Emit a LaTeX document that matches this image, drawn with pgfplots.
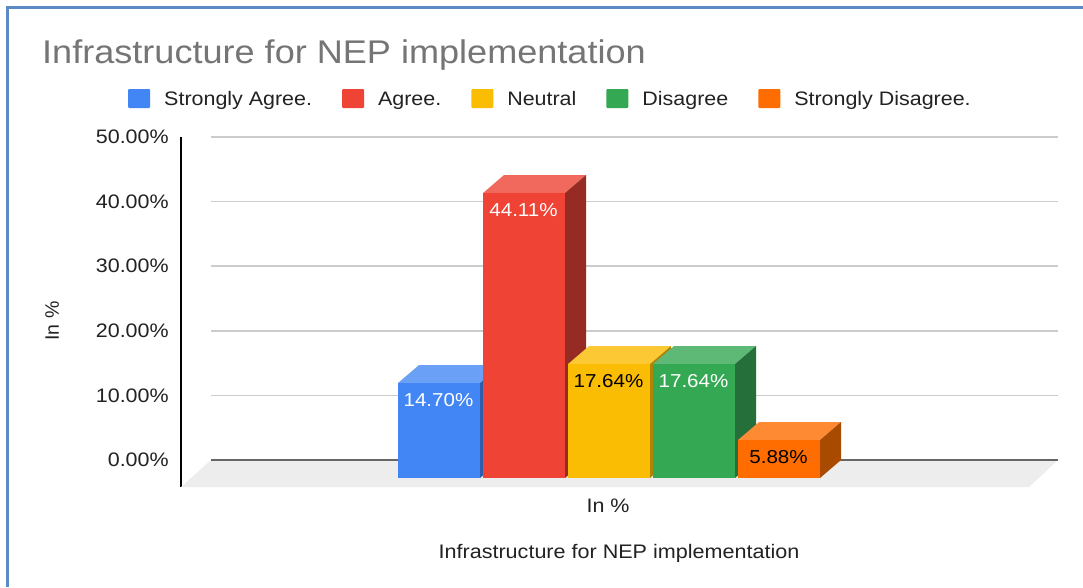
\documentclass[border=0pt]{standalone}
\usepackage{fontspec}
\setmainfont{Liberation Sans}[FakeStretch=1.1]
\usepackage{pgfplots}
\pgfplotsset{compat=1.18}
\definecolor{frameblue}{HTML}{5B8AC4}
\definecolor{titlegrey}{HTML}{757575}
\definecolor{txt}{HTML}{222222}
\definecolor{gridgrey}{HTML}{CCCCCC}
\definecolor{floorgrey}{HTML}{EDEDED}
\definecolor{zeroline}{HTML}{666666}
\definecolor{cblue}{HTML}{4285F4}
\definecolor{cblueT}{HTML}{6AA0F6}
\definecolor{cblueS}{HTML}{2E5DAB}
\definecolor{cred}{HTML}{EE4335}
\definecolor{credT}{HTML}{F1695C}
\definecolor{credS}{HTML}{962B24}
\definecolor{cyel}{HTML}{FBBC04}
\definecolor{cyelT}{HTML}{FCC934}
\definecolor{cyelS}{HTML}{B08403}
\definecolor{cgrn}{HTML}{34A853}
\definecolor{cgrnT}{HTML}{5DB975}
\definecolor{cgrnS}{HTML}{246F3A}
\definecolor{corg}{HTML}{FF6D01}
\definecolor{corgT}{HTML}{FF8A34}
\definecolor{corgS}{HTML}{A84A00}
\newcommand{\txtfont}{\fontsize{19.5}{23}\selectfont}
\pgfkeys{/pgf/number format/.cd, fixed, fixed zerofill, precision=2, assume math mode=true}
\pgfplotsset{
  front/.style={ybar, bar width=82pt, bar shift=0pt, draw=none, xshift=-21pt, yshift=-18pt,
    nodes near coords={\pgfmathprintnumber{\pgfplotspointmeta}\%},
    nodes near coords align={below},
    every node near coord/.append style={font=\fontsize{18.7}{22}\selectfont, xshift=-0.5pt, yshift=-6.5pt, text=#1}},
  face/.style={fill=#1, draw=none, forget plot},
  gridl/.style={gridgrey, line width=1.5pt, forget plot},
}
\begin{document}
\begin{tikzpicture}
\path[use as bounding box] (0,0) rectangle (1083pt,587pt);
\fill[white] (0,0) rectangle (1083pt,587pt);
\draw[frameblue, line width=3pt] (7pt,0) -- (7pt,579pt) -- (1083pt,579pt);
\node[anchor=west, inner sep=0pt, text=titlegrey, font=\fontsize{32.8}{38}\selectfont] at (42pt,532pt) {Infrastructure for NEP implementation};
\begin{axis}[
  at={(181pt,100pt)}, anchor=south west,
  scale only axis, width=877pt, height=350pt,
  xmin=181, xmax=1058, ymin=-4.18, ymax=50,
  clip=false,
  axis y line=left, axis x line=bottom,
  axis line style={-},
  x axis line style={draw=none},
  y axis line style={black, line width=1.4pt},
  tick style={draw=none},
  ytick={0,10,20,30,40,50},
  yticklabel={\pgfmathprintnumber{\tick}\%},
  y tick label style={font=\txtfont, text=txt, anchor=east, xshift=-10pt, inner sep=0pt},
  xtick={608}, xticklabels={In \%},
  x tick label style={font=\txtfont, text=txt, yshift=-6pt},
  xlabel={Infrastructure for NEP implementation},
  xlabel style={font=\fontsize{19.6}{23}\selectfont, text=txt, at={(0.4994,-0.189)}, anchor=center},
  ylabel={In \%},
  ylabel style={font={\fontspec{Liberation Sans}\txtfont}, text=txt, at={(-0.147,0.474)}, anchor=center},
  point meta=y,
  legend columns=5,
  legend style={at={(-0.0604,1.1081)}, anchor=west, draw=none, fill=none, inner sep=0pt,
    font=\txtfont, text=txt, /tikz/every odd column/.append style={column sep=12pt},
    /tikz/every even column/.append style={column sep=28pt}},
  legend cell align=left,
  legend image code/.code={\fill[#1, rounded corners=1pt] (0pt,9.5pt) rectangle (22pt,28.5pt);},
]
% floor and back wall
\addplot[face=floorgrey] coordinates {(181,-4.18) (211,0) (1058,0) (1029,-4.18)} --cycle;
\addplot[gridl] coordinates {(211,10) (1058,10)};
\addplot[gridl] coordinates {(211,20) (1058,20)};
\addplot[gridl] coordinates {(211,30) (1058,30)};
\addplot[gridl] coordinates {(211,40) (1058,40)};
\addplot[gridl] coordinates {(211,50) (1058,50)};
\addplot[zeroline, line width=1.6pt, forget plot] coordinates {(211,0) (1058,0)};
% Strongly Agree 14.70
\addplot[face=cblueT] coordinates {(398,11.91) (480,11.91) (501,14.70) (419,14.70)} --cycle;
\addplot[face=cblueS] coordinates {(480,11.91) (501,14.70) (501,0) (480,-2.79)} --cycle;
\addplot[front=white, fill=cblue] coordinates {(460,14.70)};
\addlegendentry{Strongly Agree.}
% Agree 44.11
\addplot[face=credT] coordinates {(483,41.32) (565,41.32) (586,44.11) (504,44.11)} --cycle;
\addplot[face=credS] coordinates {(565,41.32) (586,44.11) (586,0) (565,-2.79)} --cycle;
\addplot[front=white, fill=cred] coordinates {(545,44.11)};
\addlegendentry{Agree.}
% Neutral 17.64
\addplot[face=cyelT] coordinates {(568,14.85) (650,14.85) (671,17.64) (589,17.64)} --cycle;
\addplot[face=cyelS] coordinates {(650,14.85) (671,17.64) (671,0) (650,-2.79)} --cycle;
\addplot[front=black, fill=cyel] coordinates {(630,17.64)};
\addlegendentry{Neutral}
% Disagree 17.64
\addplot[face=cgrnT] coordinates {(653,14.85) (735,14.85) (756,17.64) (674,17.64)} --cycle;
\addplot[face=cgrnS] coordinates {(735,14.85) (756,17.64) (756,0) (735,-2.79)} --cycle;
\addplot[front=white, fill=cgrn] coordinates {(715,17.64)};
\addlegendentry{Disagree}
% Strongly Disagree 5.88
\addplot[face=corgT] coordinates {(738,3.09) (820,3.09) (841,5.88) (759,5.88)} --cycle;
\addplot[face=corgS] coordinates {(820,3.09) (841,5.88) (841,0) (820,-2.79)} --cycle;
\addplot[front=black, fill=corg] coordinates {(800,5.88)};
\addlegendentry{Strongly Disagree.}
\end{axis}
\end{tikzpicture}
\end{document}
